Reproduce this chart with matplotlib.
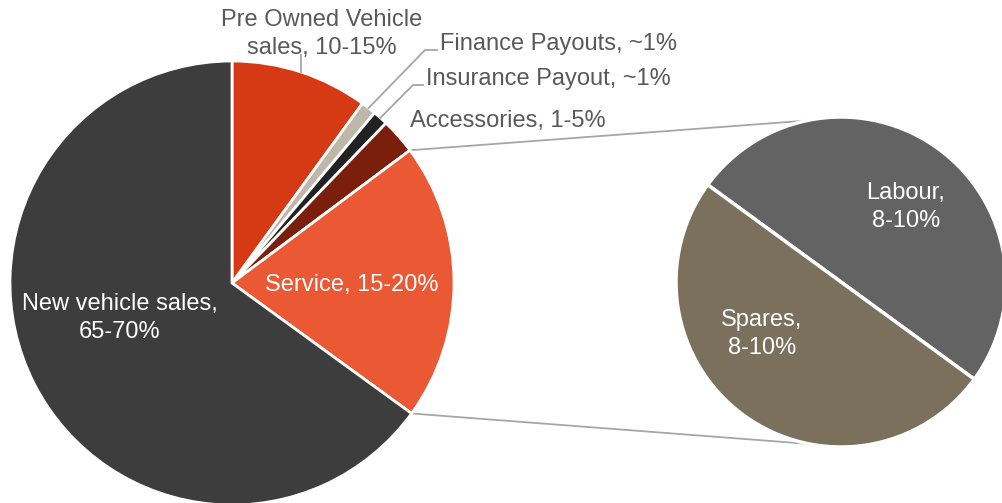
import numpy as np
import matplotlib
matplotlib.use('Agg')
import matplotlib.pyplot as plt

# ---------------------- data ----------------------
main_names = ['Pre Owned Vehicle sales', 'Finance Payouts', 'Insurance Payout',
              'Accessories', 'Service', 'New vehicle sales']
main_shares = [10.0, 1.1, 1.1, 2.6, 20.2, 65.0]
main_texts = ['Pre Owned Vehicle\nsales, 10-15%', 'Finance Payouts, ~1%',
              'Insurance Payout, ~1%', 'Accessories, 1-5%',
              'Service, 15-20%', 'New vehicle sales,\n65-70%']
main_colors = ['#d53a15', '#bfb8aa', '#222222', '#7a1f0c', '#eb5834', '#3d3d3d']

sub_names = ['Labour', 'Spares']
sub_shares = [9, 9]
sub_texts = ['Labour,\n8-10%', 'Spares,\n8-10%']
sub_colors = ['#636363', '#7b705c']

W, H = 1003, 503
label_grey = '#595959'
line_grey = '#a6a6a6'
fs = 17
ls = 1.3

# centres / radii in pixel space (y measured from bottom)
c1, r1 = (232, H - 283), 222
c2, r2 = (841, H - 282), 165


def rim(center, r, ang):
    a = np.deg2rad(ang)
    return center[0] + r * np.cos(a), center[1] + r * np.sin(a)


plt.rcParams['font.family'] = ['Liberation Sans', 'DejaVu Sans']

fig = plt.figure(figsize=(W / 100, H / 100), dpi=100)
ax = fig.add_axes([0, 0, 1, 1])

w1, _ = ax.pie(main_shares, colors=main_colors, startangle=90, counterclock=False,
               center=c1, radius=r1,
               wedgeprops=dict(edgecolor='white', linewidth=2))
w2, _ = ax.pie(sub_shares, colors=sub_colors, startangle=143.9, counterclock=False,
               center=c2, radius=r2,
               wedgeprops=dict(edgecolor='white', linewidth=2.5))

ax.set_xlim(0, W)
ax.set_ylim(0, H)
ax.set_aspect('equal')
ax.axis('off')

# ---- connector lines from Service wedge to the second pie ----
serv = w1[4]
p_top = rim(c1, r1, serv.theta2)
p_bot = rim(c1, r1, serv.theta1)
q_top = rim(c2, r2, 102)
q_bot = rim(c2, r2, -101)
ax.plot([p_top[0], q_top[0]], [p_top[1], q_top[1]], color=line_grey, lw=1.3, zorder=0)
ax.plot([p_bot[0], q_bot[0]], [p_bot[1], q_bot[1]], color=line_grey, lw=1.3, zorder=0)

# ---- outside labels ----
mid = [(w.theta1 + w.theta2) / 2 for w in w1]

# Pre Owned
s = rim(c1, r1, mid[0])
ax.plot([s[0], s[0]], [s[1], H - 55], color=line_grey, lw=1.3)
ax.text(322, H - 34, main_texts[0], ha='center', va='center', fontsize=fs,
        color=label_grey, linespacing=ls)

# Finance
s = rim(c1, r1, mid[1])
ax.plot([s[0], 425, 437], [s[1], H - 50, H - 50], color=line_grey, lw=1.3)
ax.text(440, H - 44, main_texts[1], ha='left', va='center', fontsize=fs, color=label_grey)

# Insurance
s = rim(c1, r1, mid[2])
ax.plot([s[0], 413, 423], [s[1], H - 85, H - 85], color=line_grey, lw=1.3)
ax.text(426, H - 79, main_texts[2], ha='left', va='center', fontsize=fs, color=label_grey)

# Accessories
ax.text(410, H - 121, main_texts[3], ha='left', va='center', fontsize=fs, color=label_grey)

# ---- inside labels ----
ax.text(352, H - 285, main_texts[4], ha='center', va='center', fontsize=fs, color='white')
ax.text(120, H - 318, main_texts[5], ha='center', va='center', fontsize=fs,
        color='white', linespacing=ls)
ax.text(906, H - 207, sub_texts[0], ha='center', va='center', fontsize=fs,
        color='white', linespacing=ls)
ax.text(762, H - 334, sub_texts[1], ha='center', va='center', fontsize=fs,
        color='white', linespacing=ls)

fig.savefig('out.png', dpi=100)
